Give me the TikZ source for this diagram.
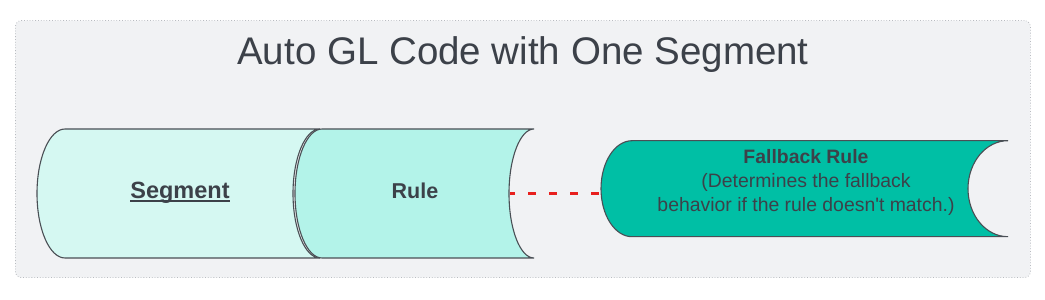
\documentclass[tikz,border=0pt]{standalone}
\usepackage{fontspec}
\setmainfont{Liberation Sans}
\definecolor{bgfill}{HTML}{F1F2F4}
\definecolor{bgline}{HTML}{B8BBC0}
\definecolor{segfill}{HTML}{D5F8F2}
\definecolor{rulefill}{HTML}{B3F3E9}
\definecolor{fbfill}{HTML}{00BFA5}
\definecolor{edge}{HTML}{4A4F55}
\definecolor{txt}{HTML}{3C4149}
\definecolor{dashred}{HTML}{E8201E}
\tikzset{
  tab/.style={draw=edge, line width=1.1pt},
  lbl/.style={text=txt, inner sep=0pt},
  link/.style={draw=dashred, line width=3.3pt, dash pattern=on 7.5pt off 13.5pt, dash phase=3pt}
}
\newcommand{\tabshape}[8]{% fill, a, b, d1, d2, top, bottom, mid
  \path[tab, fill=#1] (#2,#6) -- (#3,#6)
    arc[start angle=90, end angle=270, x radius=#5, y radius={(#6-#7)/2}]
    -- (#2,#7)
    arc[start angle=270, end angle=90, x radius=#4, y radius={(#6-#7)/2}]
    -- cycle;}
\newcommand{\myuline}[1]{{\setbox0\hbox{#1}\rlap{\color{txt}\rule[-2.8pt]{\wd0}{1.5pt}}\box0}}
\begin{document}
\begin{tikzpicture}[x=1pt,y=1pt]
\useasboundingbox (0,0) rectangle (1045,300);
\node[draw=bgline, dotted, line width=0.8pt, fill=bgfill, rounded corners=6pt,
  minimum width=1015pt, minimum height=257pt, inner sep=0pt, anchor=south west] (frame) at (15,22) {};
\node[lbl, font=\fontsize{38.5}{44}\selectfont, anchor=base] (title) at (523,235) {Auto GL Code with One Segment};
% shapes
\tabshape{segfill}{65}{320}{28}{27}{171}{42}{106.5}
\tabshape{rulefill}{322}{534}{27}{25}{171}{42}{106.5}
\tabshape{fbfill}{632}{1008}{31}{40}{159.3}{63.3}{111.3}
\node[lbl, font=\fontsize{23.5}{28}\selectfont\bfseries, anchor=base] (seg) at (180,101) {\myuline{Segment}};
\node[lbl, font=\fontsize{21.5}{26}\selectfont\bfseries, anchor=base] (rule) at (415,101) {Rule};
\node[lbl, font=\fontsize{19.4}{24}\selectfont, align=center] (fb) at (806,118) {\textbf{Fallback Rule}\\(Determines the fallback\\behavior if the rule doesn\textquotesingle t match.)};
\coordinate (ruleR) at (510,106.5);
\coordinate (fbL) at (601,106.5);
\draw[link] (ruleR) -- (fbL);
\end{tikzpicture}
\end{document}
